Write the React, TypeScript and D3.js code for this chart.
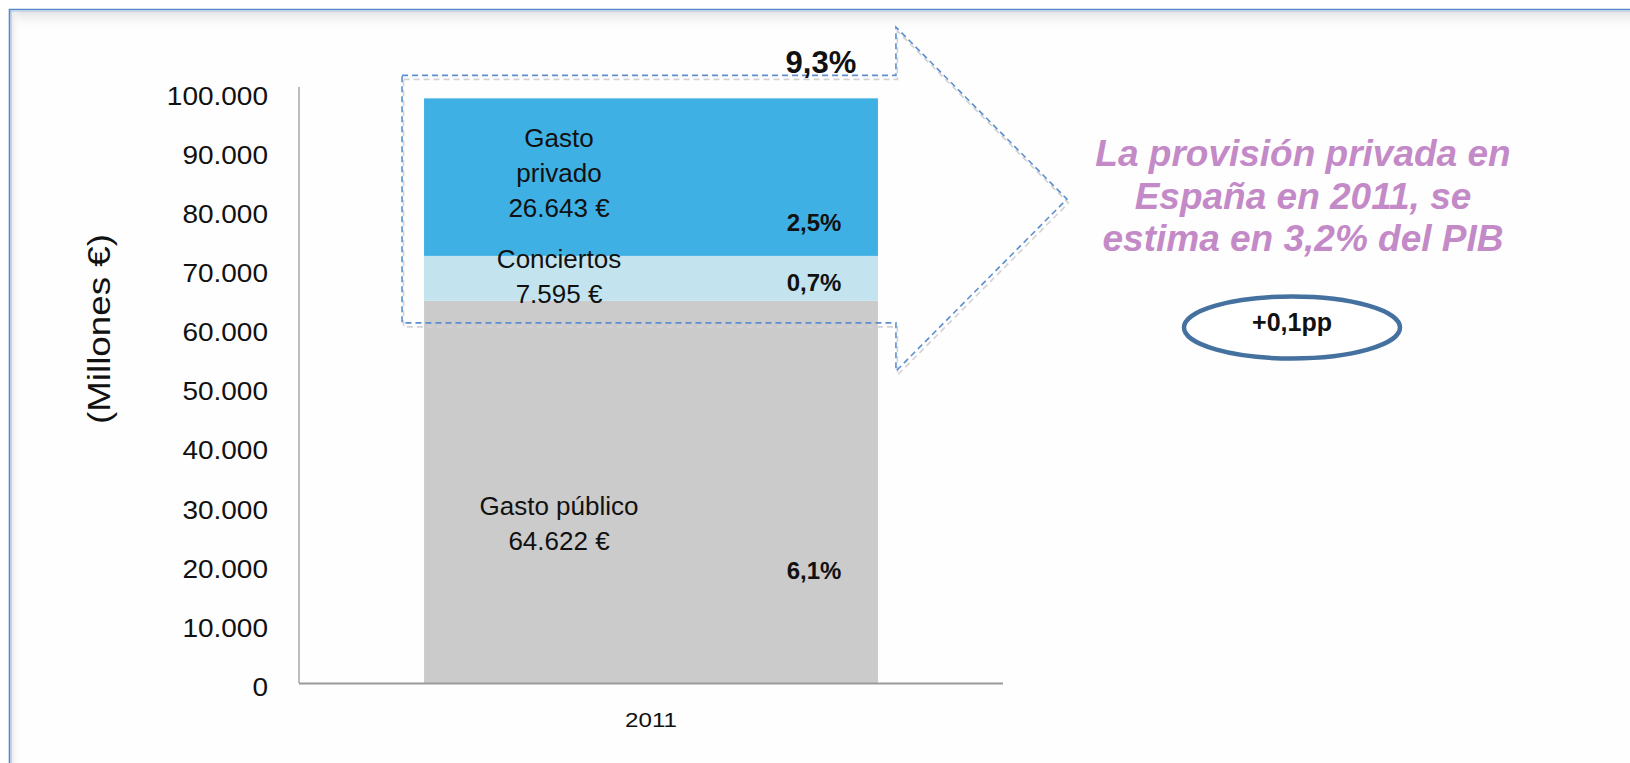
import React from 'react';
import * as d3 from 'd3';

// ---- data ----
const categories = ['2011'];
const seriesKeys = ['publico', 'conciertos', 'privado'];
const seriesValues2011 = [64622, 7595, 26643];
const seriesLabelLines = [
  ['Gasto público', '64.622 €'],
  ['Conciertos', '7.595 €'],
  ['Gasto', 'privado', '26.643 €'],
];
const pibShares = ['6,1%', '0,7%', '2,5%'];
const totalShare = '9,3%';
const yTickValues = [0, 10000, 20000, 30000, 40000, 50000, 60000, 70000, 80000, 90000, 100000];
const yAxisTitle = '(Millones €)';
const noteLines = ['La provisión privada en', 'España en 2011, se', 'estima en 3,2% del PIB'];
const badgeText = '+0,1pp';

// ---- styles ----
const W = 1630;
const H = 763;
const seriesColors = ['#cbcbcb', '#c3e4ee', '#3fb0e3'];
const FONT = '"Liberation Sans", Arial, sans-serif';

const locale = d3.formatLocale({ decimal: ',', thousands: '.', grouping: [3], currency: ['', '€'] });
const fmt = locale.format(',');

export default function App() {
  const y = d3.scaleLinear().domain([0, 100000]).range([683, 91.6]);
  const x = d3.scaleBand().domain(categories).range([299, 1003]).paddingInner(0.216).paddingOuter(0.216);

  const rows = categories.map(() => {
    const r: any = {};
    seriesKeys.forEach((k, i) => (r[k] = seriesValues2011[i]));
    return r;
  });
  const stacked = d3.stack().keys(seriesKeys)(rows);

  const cat = categories[0];
  const bx = x(cat) as number;
  const bw = x.bandwidth();
  const bc = bx + bw / 2;
  const total = d3.sum(seriesValues2011);

  // label placement (relative to segments)
  const labelDy = [32, -2, -4];
  const pctDy = [87, 13, 54];
  const lineH = 35;
  const labelX = bc - 92;
  const pctX = bc + 163;

  // dashed arrow around private part
  const aL = bx - 22;
  const aR = bx + bw + 18;
  const aT = y(total) - 23;
  const aB = y(seriesValues2011[0]) + 22;
  const aMid = (aT + aB) / 2;
  const headH = 172;
  const headLen = 171;
  const arrow = d3.path();
  arrow.moveTo(aL, aT);
  arrow.lineTo(aR, aT);
  arrow.lineTo(aR, aMid - headH);
  arrow.lineTo(aR + headLen, aMid);
  arrow.lineTo(aR, aMid + headH);
  arrow.lineTo(aR, aB);
  arrow.lineTo(aL, aB);
  arrow.closePath();
  const arrowD = arrow.toString();

  return (
    <svg width={W} height={H} style={{ position: 'absolute', left: 0, top: 0 }} fontFamily={FONT}>
      <defs>
        <linearGradient id="topShade" x1="0" y1="0" x2="0" y2="1">
          <stop offset="0" stopColor="#e2e2e2" />
          <stop offset="1" stopColor="#ffffff" stopOpacity="0" />
        </linearGradient>
        <linearGradient id="leftShade" x1="0" y1="0" x2="1" y2="0">
          <stop offset="0" stopColor="#e8e8e8" />
          <stop offset="1" stopColor="#ffffff" stopOpacity="0" />
        </linearGradient>
      </defs>
      <rect x={0} y={0} width={W} height={H} fill="#ffffff" />
      {/* frame */}
      <rect x={9.5} y={9.5} width={W + 50} height={H + 50} fill="#fefefe" />
      <rect x={10} y={11} width={W} height={20} fill="url(#topShade)" />
      <rect x={11} y={11} width={10} height={H} fill="url(#leftShade)" />
      <line x1={9} y1={9.5} x2={W} y2={9.5} stroke="#5a88c6" strokeWidth={1.6} />
      <line x1={9} y1={11} x2={W} y2={11} stroke="#aac5e8" strokeWidth={1.2} />
      <line x1={9.5} y1={9} x2={9.5} y2={H} stroke="#5a88c6" strokeWidth={1.6} />
      <line x1={11} y1={11} x2={11} y2={H} stroke="#aac5e8" strokeWidth={1.2} />

      {/* bars */}
      {stacked.map((s, i) =>
        s.map((d, j) => (
          <rect
            key={`${i}-${j}`}
            x={x(categories[j]) as number}
            y={y(d[1])}
            width={bw}
            height={y(d[0]) - y(d[1])}
            fill={seriesColors[i]}
          />
        ))
      )}

      {/* axes */}
      <line x1={299} y1={87} x2={299} y2={y(0)} stroke="#a6a6a6" strokeWidth={1.5} />
      <line x1={299} y1={y(0) + 0.5} x2={1003} y2={y(0) + 0.5} stroke="#9a9a9a" strokeWidth={2} />
      {yTickValues.map((v) => (
        <text
          key={v}
          transform={`translate(268,${y(v) + 13}) scale(1.12,1)`}
          textAnchor="end"
          fontSize={25}
          fill="#111"
        >
          {fmt(v)}
        </text>
      ))}
      {categories.map((c) => (
        <text
          key={c}
          transform={`translate(${(x(c) as number) + bw / 2},727) scale(1.15,1)`}
          textAnchor="middle"
          fontSize={21}
          fill="#111"
        >
          {c}
        </text>
      ))}
      <text
        transform={`translate(110,329) rotate(-90)`}
        textAnchor="middle"
        fontSize={31}
        textLength={190}
        lengthAdjust="spacingAndGlyphs"
        fill="#111"
      >
        {yAxisTitle}
      </text>

      {/* segment labels */}
      {stacked.map((s, i) => {
        const d = s[0];
        const mid = (y(d[0]) + y(d[1])) / 2 + labelDy[i];
        const lines = seriesLabelLines[i];
        const startY = mid - ((lines.length - 1) * lineH) / 2 + 9;
        return (
          <g key={`lab-${i}`}>
            {lines.map((t, k) => (
              <text key={k} x={labelX} y={startY + k * lineH} textAnchor="middle" fontSize={26} fill="#111">
                {t}
              </text>
            ))}
            <text
              x={pctX}
              y={(y(d[0]) + y(d[1])) / 2 + pctDy[i]}
              textAnchor="middle"
              fontSize={24}
              fontWeight="bold"
              fill="#111"
            >
              {pibShares[i]}
            </text>
          </g>
        );
      })}

      {/* dashed arrow */}
      <path d={arrowD} fill="none" stroke="#d2d2d2" strokeWidth={1.6} strokeDasharray="6 4" transform="translate(1.5,4)" />
      <path d={arrowD} fill="none" stroke="#5b8ed0" strokeWidth={1.6} strokeDasharray="6 4" />
      <text x={aR - 75} y={aT - 2} textAnchor="middle" fontSize={31} fontWeight="bold" fill="#111">
        {totalShare}
      </text>

      {/* note */}
      {noteLines.map((t, k) => (
        <text
          key={k}
          x={1303}
          y={166 + k * 42.5}
          textAnchor="middle"
          fontSize={37}
          fontWeight="bold"
          fontStyle="italic"
          fill="#c48ac8"
        >
          {t}
        </text>
      ))}
      <ellipse cx={1292} cy={327.5} rx={108} ry={31} fill="#ffffff" stroke="#44719f" strokeWidth={4.5} />
      <text x={1292} y={331} textAnchor="middle" fontSize={25} fontWeight="bold" fill="#111">
        {badgeText}
      </text>
    </svg>
  );
}
